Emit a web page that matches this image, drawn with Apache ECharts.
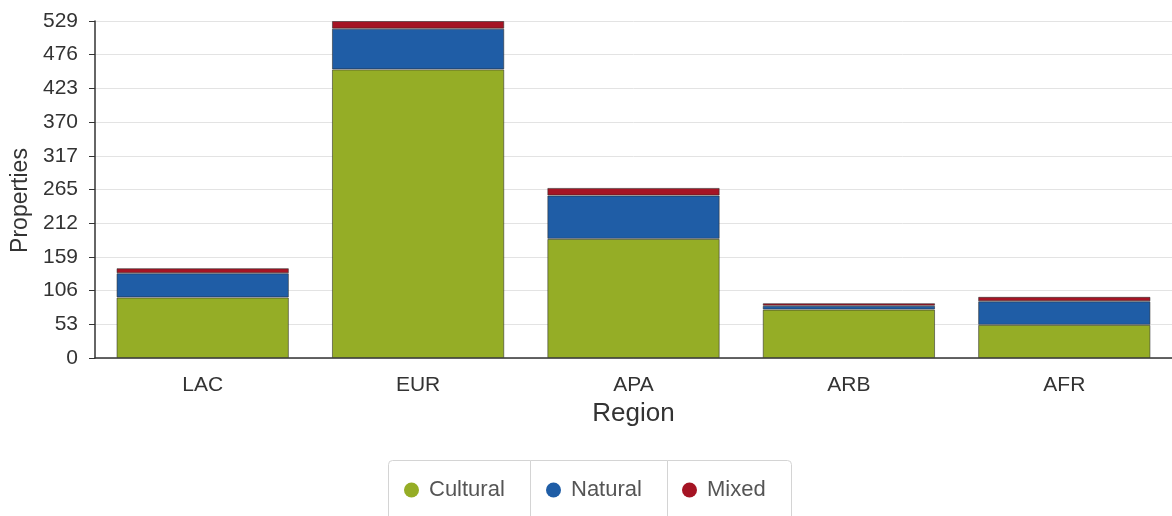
<!DOCTYPE html>
<html>
<head>
<meta charset="utf-8">
<script src="https://cdn.jsdelivr.net/npm/echarts@6/dist/echarts.min.js"></script>
<style>
  html, body { margin: 0; padding: 0; background: #fff; }
  #chart { width: 1172px; height: 516px; }
</style>
</head>
<body>
<div id="chart"></div>
<script>
const categories = ['LAC', 'EUR', 'APA', 'ARB', 'AFR'];
const cultural = [95, 453, 187, 76, 52];
const natural = [38, 64, 68, 6, 37];
const mixed = [8, 12, 12, 4, 7];
const seriesNames = ['Cultural', 'Natural', 'Mixed'];
const yMax = 529;
const yInterval = 52.9;

const colors = ['#95ad26', '#1f5da6', '#a51424'];
const FONT = '"Liberation Sans", Arial, sans-serif';

const chart = echarts.init(document.getElementById('chart'), null, { renderer: 'canvas' });

const barStyle = (c) => ({ color: c, borderColor: 'rgba(40,40,40,0.55)', borderWidth: 1 });

const legendBase = {
  orient: 'horizontal', icon: 'circle', itemWidth: 25, itemHeight: 15,
  padding: 0, selectedMode: false,
  itemStyle: { borderWidth: 0 },
  textStyle: { fontSize: 22, color: '#555', fontFamily: FONT }
};

chart.setOption({
  animation: false,
  textStyle: { fontFamily: FONT },
  grid: { left: 95, right: 0, top: 21, bottom: 158, containLabel: false },
  xAxis: {
    type: 'category',
    data: categories,
    name: 'Region',
    nameLocation: 'middle',
    nameGap: 43,
    nameTextStyle: { fontSize: 26, color: '#333', fontFamily: FONT },
    axisLine: { lineStyle: { color: '#333', width: 1.5 } },
    axisTick: { alignWithLabel: true, length: 8, lineStyle: { color: '#333' } },
    axisLabel: { fontSize: 21, color: '#333', margin: 17, fontFamily: FONT },
    splitLine: { show: false }
  },
  yAxis: {
    type: 'value',
    min: 0,
    max: yMax,
    interval: yInterval,
    name: 'Properties',
    nameLocation: 'middle',
    nameGap: 60,
    nameTextStyle: { fontSize: 23, color: '#333', fontFamily: FONT, padding: [0, 22, 0, 0] },
    axisLine: { show: true, lineStyle: { color: '#333', width: 1.5 } },
    axisTick: { show: true, length: 6, lineStyle: { color: '#333' } },
    axisLabel: { fontSize: 21, color: '#333', margin: 17, fontFamily: FONT,
      formatter: (v) => String(Math.round(v)) },
    splitLine: { show: true, lineStyle: { color: '#e3e3e3', width: 1 } }
  },
  legend: [
    Object.assign({}, legendBase, { data: [seriesNames[0]], left: 404, top: 479 }),
    Object.assign({}, legendBase, { data: [seriesNames[1]], left: 546, top: 479 }),
    Object.assign({}, legendBase, { data: [seriesNames[2]], left: 682, top: 479 })
  ],
  graphic: [
    { type: 'rect', z: -1, shape: { x: 388.5, y: 460.5, width: 142, height: 70, r: [4, 0, 0, 0] },
      style: { fill: '#fff', stroke: '#d4d4d4', lineWidth: 1 } },
    { type: 'rect', z: -1, shape: { x: 530.5, y: 460.5, width: 137, height: 70, r: 0 },
      style: { fill: '#fff', stroke: '#d4d4d4', lineWidth: 1 } },
    { type: 'rect', z: -1, shape: { x: 667.5, y: 460.5, width: 124, height: 70, r: [0, 4, 0, 0] },
      style: { fill: '#fff', stroke: '#d4d4d4', lineWidth: 1 } }
  ],
  series: [
    { name: seriesNames[0], type: 'bar', stack: 'total', data: cultural, barWidth: '80%', itemStyle: barStyle(colors[0]) },
    { name: seriesNames[1], type: 'bar', stack: 'total', data: natural, barWidth: '80%', itemStyle: barStyle(colors[1]) },
    { name: seriesNames[2], type: 'bar', stack: 'total', data: mixed, barWidth: '80%', itemStyle: barStyle(colors[2]) }
  ]
});
</script>
</body>
</html>
